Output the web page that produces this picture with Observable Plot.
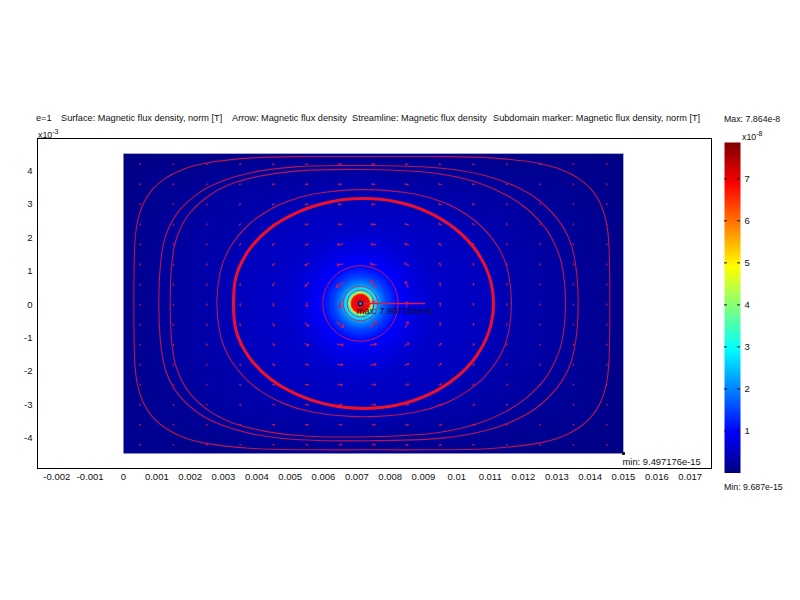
<!DOCTYPE html>
<html><head><meta charset="utf-8">
<script src="https://cdn.jsdelivr.net/npm/d3@7"></script>
<script src="https://cdn.jsdelivr.net/npm/@observablehq/plot@0.6"></script>
<style>
html,body{margin:0;padding:0;background:#fff}
#c{position:relative;width:800px;height:600px;overflow:hidden;font:9.2px "Liberation Sans",sans-serif;color:#111}
#c svg{position:absolute;left:0;top:0}
.t{position:absolute;white-space:nowrap;line-height:12px}
.s{font-size:8.8px}
.t sup{font-size:7px;line-height:0;vertical-align:baseline;position:relative;top:-4px}
</style></head><body><div id="c"></div>
<script>
// x in 1e-3 m (axis labelled in m), y in 1e-3 m
const xTicks=[-2,-1,0,1,2,3,4,5,6,7,8,9,10,11,12,13,14,15,16,17];
const xTickLabels=["-0.002","-0.001","0","0.001","0.002","0.003","0.004","0.005","0.006","0.007","0.008","0.009","0.01","0.011","0.012","0.013","0.014","0.015","0.016","0.017"];
const yTicks=[-4,-3,-2,-1,0,1,2,3,4];
const barTicks=[1,2,3,4,5,6,7];
const titles=[["e=1",36],["Surface: Magnetic flux density, norm [T]",61],["Arrow: Magnetic flux density",232],["Streamline: Magnetic flux density",352],["Subdomain marker: Magnetic flux density, norm [T]",493]];

const lineA=[[.31,.04],[.35,1.97],[.42,2.48],[.6,3.03],[.88,3.46],[1.24,3.77],[1.74,4.03],[2.45,4.23],[3.88,4.39],[5.67,4.43],[7.45,4.43],[9.24,4.43],[11.02,4.39],[12.45,4.23],[13.16,4.03],[13.66,3.77],[14.02,3.46],[14.3,3.03],[14.48,2.48],[14.55,1.97],[14.59,.04],[14.55,-1.89],[14.48,-2.4],[14.3,-2.95],[14.02,-3.38],[13.66,-3.69],[13.16,-3.95],[12.45,-4.15],[11.02,-4.31],[9.24,-4.35],[7.45,-4.35],[5.67,-4.35],[3.88,-4.31],[2.45,-4.15],[1.74,-3.95],[1.24,-3.69],[.88,-3.38],[.6,-2.95],[.42,-2.4],[.35,-1.89]];
const lineB=[[1.06,.04],[1.19,1.77],[1.37,2.33],[1.69,2.83],[2.32,3.38],[2.95,3.69],[3.89,3.96],[5.15,4.12],[7.35,4.16],[9.55,4.08],[10.81,3.87],[11.75,3.54],[12.38,3.18],[13.01,2.57],[13.33,2.05],[13.51,1.5],[13.64,.04],[13.51,-1.42],[13.33,-1.97],[13.01,-2.49],[12.38,-3.1],[11.75,-3.46],[10.81,-3.79],[9.55,-4],[7.35,-4.08],[5.15,-4.04],[3.89,-3.88],[2.95,-3.61],[2.32,-3.3],[1.69,-2.75],[1.37,-2.25],[1.19,-1.69]];
const lineC=[[1.4,.04],[1.52,1.72],[1.7,2.26],[1.99,2.74],[2.59,3.28],[3.18,3.59],[4.07,3.84],[5.25,4],[7.33,4.04],[9.41,3.92],[10.59,3.66],[11.48,3.28],[12.07,2.89],[12.67,2.27],[12.96,1.75],[13.14,1.24],[13.26,.04],[13.14,-1.16],[12.96,-1.67],[12.67,-2.19],[12.07,-2.81],[11.48,-3.2],[10.59,-3.58],[9.41,-3.84],[7.33,-3.96],[5.25,-3.92],[4.07,-3.76],[3.18,-3.51],[2.59,-3.2],[1.99,-2.66],[1.7,-2.18],[1.52,-1.64]];
const lineD=[[2.8,.04],[2.89,.92],[3.02,1.35],[3.24,1.78],[3.68,2.32],[4.13,2.68],[4.79,3.04],[5.67,3.3],[7.22,3.44],[8.77,3.3],[9.65,3.04],[10.31,2.68],[10.76,2.32],[11.2,1.78],[11.42,1.35],[11.55,.92],[11.64,.04],[11.55,-.84],[11.42,-1.27],[11.2,-1.7],[10.76,-2.24],[10.31,-2.6],[9.65,-2.96],[8.77,-3.22],[7.22,-3.36],[5.67,-3.22],[4.79,-2.96],[4.13,-2.6],[3.68,-2.24],[3.24,-1.7],[3.02,-1.27],[2.89,-.84]];
const lineE=[[3.3,.03],[3.38,.85],[3.75,1.61],[4.37,2.26],[5.22,2.76],[6.19,3.07],[7.2,3.17],[8.21,3.07],[9.15,2.76],[9.96,2.26],[10.58,1.61],[10.97,.85],[11.1,.03],[10.97,-.79],[10.58,-1.55],[9.96,-2.2],[9.15,-2.7],[8.21,-3.01],[7.2,-3.11],[6.19,-3.01],[5.22,-2.7],[4.37,-2.2],[3.75,-1.55],[3.38,-.79]];
const sideLine=[[7.11,.03],[9.03,.03]];

const centre=[7.11,.03];
const ringLineRadii=[1.13,.52,.4,.2,.13];
// surface value (x1e-8 T) read along the streamlines, on rings round the source and along the edge
const lineValues=[.13,.2,.24,.36,.46];
const ringRadii=[.04,.1,.2,.27,.3,.33,.36,.41,.5,.6,.8,1.13,1.6,2.2];
const ringValues=[6.8,7.2,7.0,6.9,6.0,4.4,3.1,2.9,2.5,2.0,1.5,1.02,.78,.58];
const edgeX=[0,0,0,2.5,7.1,12,15,15,15,12,7.1,2.5];
const edgeY=[4.52,1.8,-1.8,4.52,4.52,4.52,4.52,0,-4.46,-4.46,-4.46,-4.46];
const edgeV=[.03,.08,.08,.07,.13,.07,.03,.07,.03,.07,.13,.07];

const arrowX=[.5,1.5,2.5,3.5,4.5,5.5,6.5,7.5,8.5,9.5,10.5,11.5,12.5,13.5,14.5];
const arrowY=[4.2,3.6,3,2.4,1.8,1.2,.6,0,-.6,-1.2,-1.8,-2.4,-3,-3.6,-4.2];
const arrowAngle=[
[235,245,255,260,265,268,270,270,272,275,280,285,295,305,320],
[220,235,245,255,262,266,270,270,274,280,285,295,305,320,335],
[205,220,232,245,255,264,270,270,276,285,295,308,320,335,345],
[195,205,218,232,245,258,268,272,282,295,308,322,335,345,352],
[188,195,205,218,235,250,265,275,290,305,320,335,345,352,356],
[184,188,195,205,220,240,262,280,305,325,340,348,354,357,358],
[181,183,186,192,205,225,235,320,335,350,354,357,358,359,359],
[180,180,180,180,180,180,180,0,0,0,0,0,0,0,0],
[179,177,174,168,155,135,125,40,25,10,6,3,2,1,1],
[176,172,165,155,140,120,98,80,55,35,20,12,6,3,2],
[172,165,155,142,125,110,95,85,70,55,40,25,15,8,4],
[165,155,142,128,115,102,92,88,78,65,52,38,25,15,8],
[155,140,128,115,105,96,90,90,84,75,65,52,40,25,15],
[140,125,115,105,98,94,90,90,86,80,75,65,55,40,25],
[125,115,105,100,95,92,90,90,88,85,80,75,65,55,40]];
const arrowLength=[
[1,1,1,1,1.5,2,3,3,2.5,2,1.5,1,1,1,1],
[1,1,1,1.5,2,2.5,3,3,3,2.5,2,1.5,1,1,1],
[1,1,1,1.5,2,3,3.5,3.5,3,2.5,2,1.5,1,1,1],
[1,1,1,1.5,2,3,4,4,3.5,3,2,1.5,1,1,1],
[1,1,1,1.5,2.5,3,5,5,4,3,2,1.5,1,1,1],
[1,1,1.5,2,2.5,4,6,6,5,3,2,1.5,1,1,1],
[1,1,1.5,2,3,5,9,9,6,3,2,1.5,1,1,1],
[1,1,1.5,2,3,4,7,8,5,3,2,1.5,1,1,1],
[1,1,1.5,2,3,5,9,8,6,3,2,1.5,1,1,1],
[1,1,1.5,2,2.5,4,6,6,5,3,2,1.5,1,1,1],
[1,1,1,1.5,2.5,3,5,5,4,3,2,1.5,1,1,1],
[1,1,1,1.5,2,3,4,4,3.5,3,2,1.5,1,1,1],
[1,1,1,1.5,2,3,3.5,3.5,3,2.5,2,1.5,1,1,1],
[1,1,1,1.5,2,2.5,3,3,3,2.5,2,1.5,1,1,1],
[1,1,1,1,1.5,2,3,3,2.5,2,1.5,1,1,1,1]];

const maxLabel="max: 7.907184e-8", minLabel="min: 9.497176e-15";
const barMax=7.864;
const jetStops=[0,.98,2.95,4.9,6.88,7.864];
const jetColors=["#00007f","#0000ff","#00ffff","#ffff00","#ff0000","#7f0000"];

const font='"Liberation Sans",sans-serif';
const color={type:"linear",domain:jetStops,range:jetColors,clamp:true};
const LINE="#dc1a44";

const streamlines=[lineA,lineB,lineC,lineD].flatMap((l,i)=>l.map(p=>({x:p[0],y:p[1],k:i})));
const thick=lineE.map(p=>({x:p[0],y:p[1]}));
const bearings=d3.range(0,360,22.5);
const ring=(r,k)=>bearings.map(b=>({x:centre[0]+r*Math.cos(b*Math.PI/180),y:centre[1]+r*Math.sin(b*Math.PI/180),k}));
const rings=ringLineRadii.flatMap((r,i)=>ring(r,i));

const samples=[
  ...[lineA,lineB,lineC,lineD,lineE].flatMap((l,i)=>l.map(p=>({x:p[0],y:p[1],v:lineValues[i]}))),
  ...ringRadii.flatMap((r,i)=>ring(r,i).map(p=>({x:p.x,y:p.y,v:ringValues[i]}))),
  ...edgeX.map((x,i)=>({x,y:edgeY[i],v:edgeV[i]})),
  {x:centre[0],y:centre[1],v:6.5}
];
const arrows=arrowY.flatMap((y,i)=>arrowX.map((x,j)=>({x,y,a:arrowAngle[i][j],l:arrowLength[i][j]})));

const main=Plot.plot({
  width:800,height:600,marginLeft:37,marginRight:89,marginTop:138,marginBottom:132,
  style:{background:"transparent",fontFamily:font,fontSize:"9.5px",color:"#111"},
  x:{domain:[-2.58,17.64]},y:{domain:[-4.91,4.97]},color,length:{type:"identity"},
  marks:[
    Plot.raster(samples,{x:"x",y:"y",fill:"v",x1:0,x2:15,y1:-4.46,y2:4.52,interpolate:"barycentric",pixelSize:1}),
    Plot.ruleY([4.52],{x1:0,x2:15,stroke:"#a9a9c9"}),
    Plot.ruleX([15],{y1:-4.46,y2:4.52,stroke:"#a9a9c9"}),
    Plot.vector(arrows,{x:"x",y:"y",rotate:"a",length:"l",anchor:"middle",stroke:LINE,strokeWidth:1.1,strokeOpacity:.9}),
    Plot.line(streamlines,{x:"x",y:"y",z:"k",curve:"catmull-rom-closed",stroke:LINE,strokeWidth:1.1,strokeOpacity:.85}),
    Plot.line(thick,{x:"x",y:"y",curve:"catmull-rom-closed",stroke:"#f01028",strokeWidth:3}),
    Plot.line(rings,{x:"x",y:"y",z:"k",curve:"catmull-rom-closed",stroke:LINE,strokeWidth:1,strokeOpacity:.9}),
    Plot.line(sideLine,{x:d=>d[0],y:d=>d[1],stroke:LINE,strokeWidth:1.5}),
    Plot.dot([centre],{x:d=>d[0],y:d=>d[1],r:2.2,stroke:"#111",strokeWidth:1.1,fill:"#5060d0"}),
    Plot.dot([[15,-4.46]],{x:d=>d[0],y:d=>d[1],symbol:"square",r:1.6,fill:"#000"}),
    Plot.text([maxLabel],{x:centre[0],y:centre[1],dx:-4,dy:8,text:d=>d,textAnchor:"start",fill:"#111",fontSize:9.3}),
    Plot.text([minLabel],{x:15,y:-4.46,dx:-1,dy:9,text:d=>d,textAnchor:"start",fill:"#111",fontSize:9.4}),
    Plot.frame({stroke:"#000",strokeWidth:1}),
    Plot.axisX(xTicks,{tickSize:0,tickPadding:5,tickFormat:d=>xTickLabels[xTicks.indexOf(d)],label:null,fontSize:9.5}),
    Plot.axisY(yTicks,{tickSize:0,tickPadding:5,label:null,fontSize:9.5,tickFormat:d=>d})
  ]
});
const bar=Plot.plot({
  width:800,height:600,marginLeft:724,marginRight:60,marginTop:142,marginBottom:127.5,
  style:{background:"transparent",fontFamily:font,fontSize:"9.5px",color:"#111"},
  x:{domain:[0,1],axis:null},y:{domain:[0,barMax]},color,
  marks:[
    Plot.raster({x1:0,x2:1,y1:0,y2:barMax,fill:(x,y)=>y,pixelSize:1,width:16,height:331}),
    Plot.ruleY(barTicks,{x1:0,x2:.18,stroke:"#111"}),
    Plot.ruleY(barTicks,{x1:.82,x2:1,stroke:"#111"}),
    Plot.axisY(barTicks,{anchor:"right",tickSize:0,tickPadding:4,label:null,fontSize:9.5,tickFormat:d=>d})
  ]
});
const c=document.getElementById("c");
c.append(main,bar);
const add=(html,x,y,cls)=>{const e=document.createElement("div");e.className="t "+(cls||"");e.innerHTML=html;e.style.left=x+"px";e.style.top=y+"px";c.append(e);};
titles.forEach(([s,x])=>add(s,x,112));
add("x10<sup>-3</sup>",38,129,"s");
add("x10<sup>-8</sup>",742,131,"s");
add("Max: 7.864e-8",724,113,"s");
add("Min: 9.687e-15",724,481,"s");
</script></body></html>
